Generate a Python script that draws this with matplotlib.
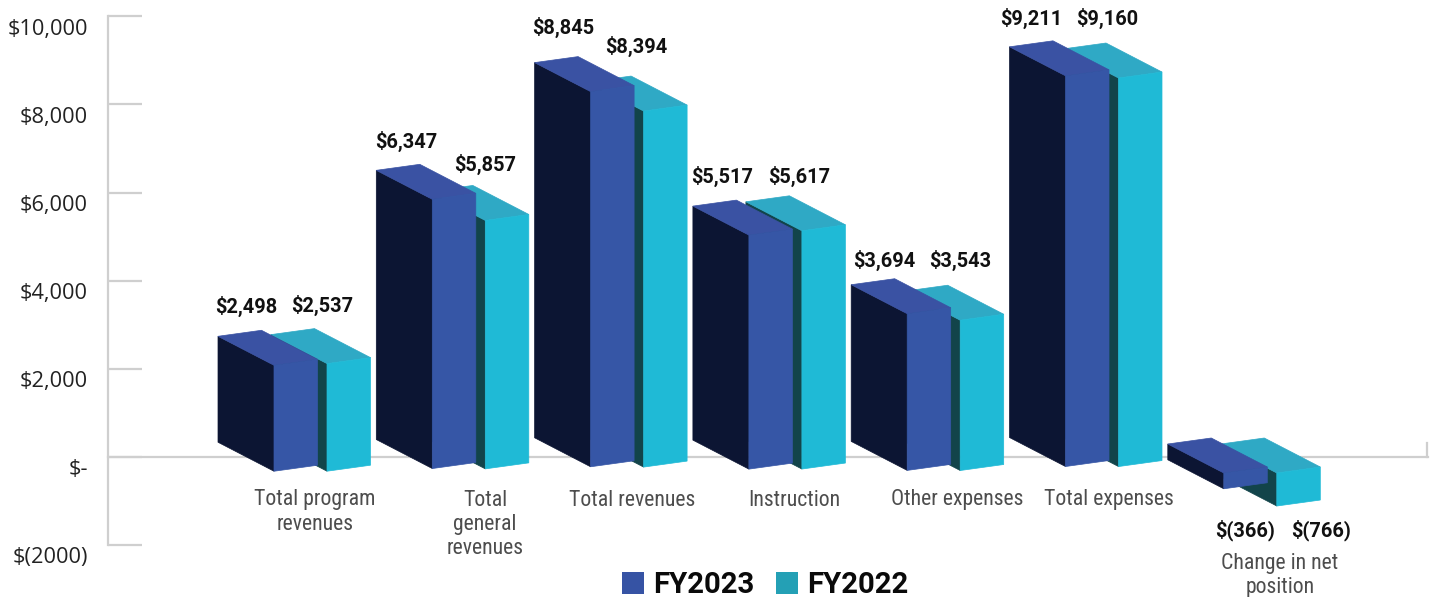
import matplotlib
matplotlib.use('Agg')
import matplotlib.pyplot as plt
from matplotlib import font_manager
from matplotlib.patches import Patch
from matplotlib.transforms import ScaledTranslation

# Data ($ thousands or whatever the report uses)
fy2023 = [2498, 6347, 8845, 5517, 3694, 9211, -366]
fy2022 = [2537, 5857, 8394, 5617, 3543, 9160, -766]
value_labels_23 = ['$2,498', '$6,347', '$8,845', '$5,517', '$3,694', '$9,211', '$(366)']
value_labels_22 = ['$2,537', '$5,857', '$8,394', '$5,617', '$3,543', '$9,160', '$(766)']
categories = ['Total program\nrevenues', 'Total\ngeneral\nrevenues', 'Total revenues',
              'Instruction', 'Other expenses', 'Total expenses', 'Change in net\nposition']
y_ticks = [10000, 8000, 6000, 4000, 2000, 0, -2000]
y_tick_labels = ['$10,000', '$8,000', '$6,000', '$4,000', '$2,000', '$-', '$(2000)']

# Layout, x axis runs in pixels
W, H = 1434, 597
zero_px = 456.5
px_per_unit = 0.044
first_x = 274
step = 158.3
shift_22 = 53
bar_w = 43.5
depth_x = 56
depth_y = 29 / px_per_unit
tilt = 6 / px_per_unit
base = -(473 - zero_px) / px_per_unit
grow = 0.98  # bars are a bit shorter than the axis says

cat_x = [315, 485, 632, 794, 957, 1109, 1280]
cat_y = [489.5, 489.5, 489.5, 489.5, 489.5, 489.5, 552.5]
label_x_23 = [246, 406, 563, 722, 884, 1031, 1245]
label_y_23 = [306, 141, 27, 176, 260, 18, 530]
label_x_22 = [322, 485, 636, 799, 960, 1107, 1321]
label_y_22 = [305, 164, 46, 176, 260, 18, 530]

blue = dict(front='#3656a6', top='#3a52a3', side='#0c1533')
teal = dict(front='#1fbad6', top='#2fa9c5', side='#12444a')

names = {f.name for f in font_manager.fontManager.ttflist}
narrow = 'Roboto'
for n in ['Roboto Condensed', 'Liberation Sans Narrow']:
    if n in names:
        narrow = n
        break


def py(p):
    # pixel row to axis value
    return (zero_px - p) / px_per_unit


def bar3d(ax, x0, value, c):
    if value >= 0:
        low = base + 0.016 * value
        high = base + grow * value
    else:
        low = base + grow * value
        high = base
    side = [(x0 - depth_x, high + depth_y), (x0, high), (x0, low), (x0 - depth_x, low + depth_y)]
    front = [(x0, high), (x0 + bar_w, high + tilt), (x0 + bar_w, low + tilt), (x0, low)]
    top = [(x0 - depth_x, high + depth_y), (x0 - depth_x + bar_w, high + depth_y + tilt),
           (x0 + bar_w, high + tilt), (x0, high)]
    # thin edge in the same colour, otherwise white seams show between the faces
    ax.fill(*zip(*side), fc=c['side'], ec=c['side'], lw=0.5, zorder=3)
    ax.fill(*zip(*top), fc=c['top'], ec=c['top'], lw=0.5, zorder=3)
    ax.fill(*zip(*front), fc=c['front'], ec=c['front'], lw=0.5, zorder=3)


fig = plt.figure(figsize=(W / 100, H / 100), dpi=100)
ax = fig.add_axes([0, 0, 1, 1])
ax.set_xlim(0, W)
ax.set_ylim(py(H), py(0))
ax.set_axisbelow(True)

# teal first, blue sits on top of it
for i in range(len(fy2023)):
    x0 = first_x + i * step
    bar3d(ax, x0 + shift_22, fy2022[i], teal)
    bar3d(ax, x0, fy2023[i], blue)

# Axis lines
for s in ['left', 'bottom', 'right', 'top']:
    ax.spines[s].set_color('#cfcfcf')
    ax.spines[s].set_linewidth(1.6)
ax.spines['top'].set_visible(False)
ax.spines['left'].set_position(('data', 108))
ax.spines['left'].set_bounds(-2000, 10000)
ax.spines['bottom'].set_position(('data', 0))
ax.spines['bottom'].set_bounds(108, 1428)
ax.spines['right'].set_position(('data', 1427))
ax.spines['right'].set_bounds(0, 300)

ax.set_xticks([])
ax.set_yticks(y_ticks)
ax.set_yticklabels(y_tick_labels, family='Open Sans', fontsize=15.7, color='#222222')
ax.tick_params(axis='y', direction='in', length=24.5, width=1.6, color='#cfcfcf', pad=14.5)
down = ScaledTranslation(0, -10.5 / 100, fig.dpi_scale_trans)
for lab in ax.get_yticklabels():
    lab.set_transform(lab.get_transform() + down)

# Value labels
for i in range(len(fy2023)):
    ax.text(label_x_23[i], py(label_y_23[i]), value_labels_23[i], family='Roboto', weight='bold',
            fontsize=14.4, color='#111111', ha='center', va='center', zorder=5)
    ax.text(label_x_22[i], py(label_y_22[i]), value_labels_22[i], family='Roboto', weight='bold',
            fontsize=14.4, color='#111111', ha='center', va='center', zorder=5)

# Category labels
for i, c in enumerate(categories):
    ax.text(cat_x[i], py(cat_y[i]), c, family=narrow, fontsize=15.7, color='#4d4d4d',
            ha='center', va='top', linespacing=1.2, zorder=5)

handles = [Patch(facecolor='#3653a4', label='FY2023'), Patch(facecolor='#24a0b5', label='FY2022')]
ax.legend(handles=handles, ncol=2, frameon=False, loc='center', bbox_to_anchor=(765 / W, 1 - 585 / H),
          prop=dict(family='Roboto', weight='bold', size=21.1), handlelength=0.76, handleheight=0.76,
          handletextpad=0.3, columnspacing=0.74, labelcolor='#0a0a0a', borderpad=0, borderaxespad=0)

fig.savefig('out.png', dpi=100)
